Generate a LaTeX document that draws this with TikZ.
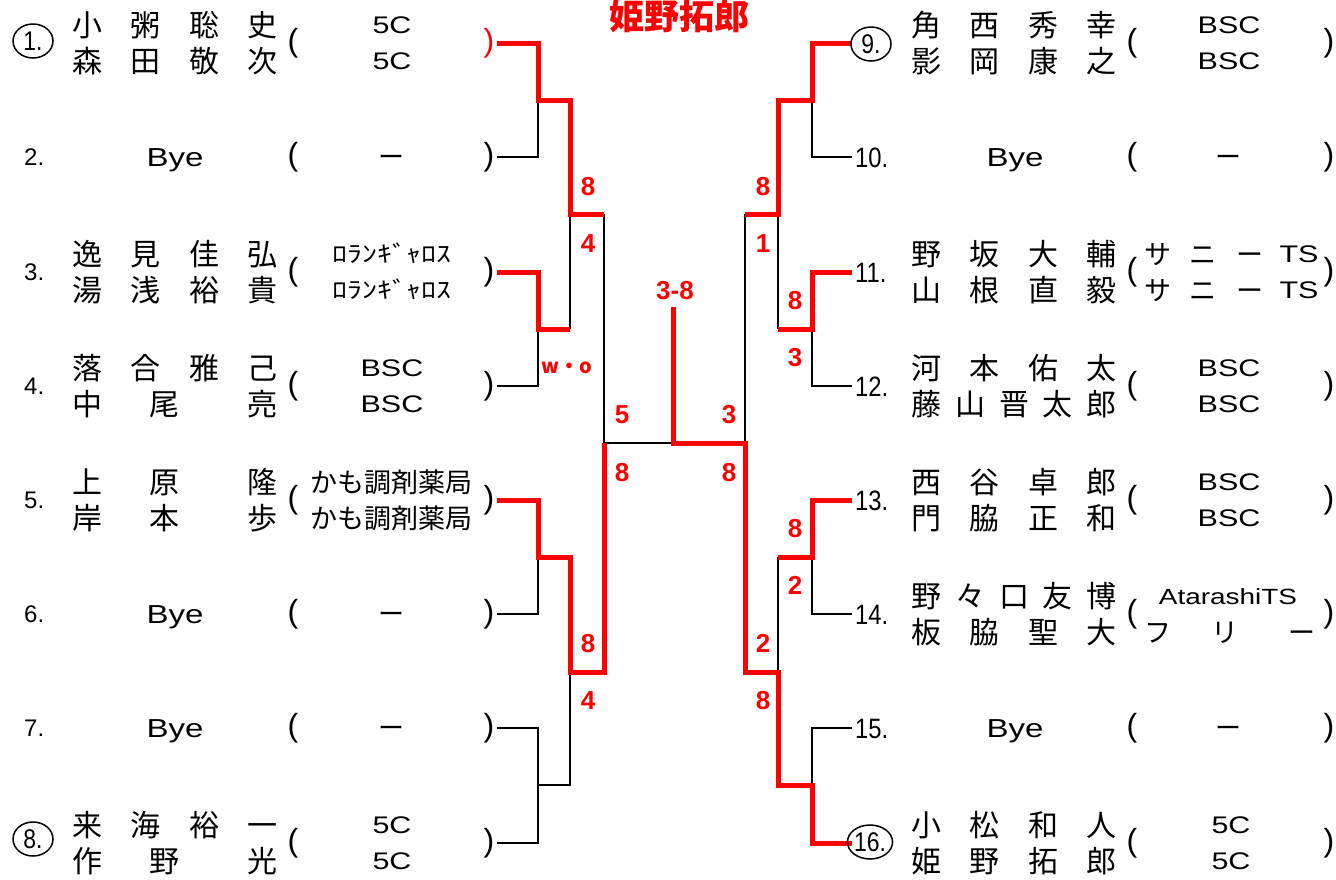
\documentclass[tikz,border=0pt]{standalone}
\usepackage{fontspec}
\setmainfont{Liberation Sans}
\newfontfamily\jp{Noto Sans CJK JP}
\newfontfamily\jpw[FakeStretch=1.3]{Noto Sans CJK JP}
\newfontfamily\wide[FakeStretch=1.27]{Liberation Sans}
\newfontfamily\narrow[FakeStretch=0.85]{Liberation Sans}
\usetikzlibrary{shapes.geometric}
\definecolor{rd}{RGB}{255,0,0}
\tikzset{
 blk/.style={line width=2.6pt, black, line join=miter},
 win/.style={line width=5pt, rd, line join=miter},
 nm/.style={font=\jp\fontsize{30}{30}\selectfont, inner sep=0pt, text height=24.9pt, text depth=2.1pt},
 aff/.style={font=\wide\fontsize{24}{24}\selectfont, inner sep=0pt, text height=17.2pt, text depth=0pt},
 affj/.style={font=\jp\fontsize{27}{27}\selectfont, inner sep=0pt, text height=22.4pt, text depth=1.9pt},
 affk/.style={font=\jpw\fontsize{23}{23}\selectfont, inner sep=0pt, text height=19pt, text depth=1.6pt},
 bye/.style={font=\wide\fontsize{26}{26}\selectfont, inner sep=0pt, text height=18.6pt, text depth=0pt},
 dsh/.style={font=\jp\fontsize{26}{26}\selectfont, inner sep=0pt, text height=21.6pt, text depth=1.8pt},
 numl/.style={font=\fontsize{24}{24}\selectfont, inner sep=0pt, text height=17.2pt, text depth=0pt, anchor=west},
 numr/.style={font=\narrow\fontsize{28}{28}\selectfont, inner sep=0pt, text height=20pt, text depth=0pt, anchor=west},
 par/.style={font=\fontsize{32}{32}\selectfont, inner sep=0pt, text height=23.4pt, text depth=6.7pt},
 circ/.style={draw, ellipse, line width=1.5pt, minimum width=40pt, minimum height=34pt, inner sep=0pt, font=\narrow\fontsize{27}{27}\selectfont, text height=19.3pt, text depth=0pt},
 sc/.style={font=\bfseries\fontsize{26}{26}\selectfont, text=rd, inner sep=0pt, text height=18.6pt, text depth=0pt},
}
\newcommand\nmrow[4]{\foreach \xx/\cc [count=\k] in {#4} {\node[nm] (#1-\k) at ({#2+\xx},#3) {\cc};}}
\newcommand\nameFour[7]{\nmrow{#1}{#2}{#3}{87/#4,145/#5,204/#6,262/#7}}
\newcommand\nameThree[6]{\nmrow{#1}{#2}{#3}{87/#4,164/#5,262/#6}}
\newcommand\nameFive[8]{\nmrow{#1}{#2}{#3}{87/#4,131/#5,175/#6,218/#7,262/#8}}
\begin{document}
\begin{tikzpicture}[x=1pt,y=-1pt]
\useasboundingbox (0,0) rectangle (1336,879);
% title
\node[font=\jp\bfseries\fontsize{35}{35}\selectfont, text=rd, inner sep=0pt, text height=29pt, text depth=2.5pt] (title) at (679,16) {姫野拓郎};

% ---------- bracket coordinates ----------
\foreach \i/\y in {1/43,2/157,3/272,4/386,5/500,6/614,7/728,8/843}{\coordinate (a\i) at (497,\y);}
\foreach \i/\y in {9/43,10/157,11/272,12/386,13/500,14/614,15/728,16/843}{\coordinate (b\i) at (852,\y);}
\coordinate (p12) at (538,100); \coordinate (p34) at (538,329);
\coordinate (p56) at (538,557); \coordinate (p78) at (538,785);
\coordinate (r12) at (570,100); \coordinate (r34) at (570,329);
\coordinate (r56) at (570,557); \coordinate (r78) at (570,785);
\coordinate (s1) at (570,214); \coordinate (s2) at (570,672);
\coordinate (t1) at (604,214); \coordinate (t2) at (604,672);
\coordinate (f1) at (604,443);
\coordinate (fc) at (673,443); \coordinate (ch) at (673,307);
\coordinate (fr) at (745,443);
\coordinate (P910) at (812,100); \coordinate (P1112) at (812,329);
\coordinate (P1314) at (812,557); \coordinate (P1516) at (812,785);
\coordinate (R910) at (778,100); \coordinate (R1112) at (778,329);
\coordinate (R1314) at (778,557); \coordinate (R1516) at (778,785);
\coordinate (S3) at (778,214); \coordinate (S4) at (778,672);
\coordinate (T3) at (745,214); \coordinate (T4) at (745,672);

% ---------- black lines ----------
\draw[blk] (a2) -| (p12);
\draw[blk] (a4) -| (p34);
\draw[blk] (a6) -| (p56);
\draw[blk] (a7) -| (p78);
\draw[blk] (a8) -| (p78) -- (r78) -- (s2);
\draw[blk] (r34) -- (s1);
\draw[blk] (t1) -- (f1) -- (fc);
\draw[blk] (b10) -| (P910);
\draw[blk] (b12) -| (P1112);
\draw[blk] (b14) -| (P1314);
\draw[blk] (b15) -| (P1516);
\draw[blk] (R1112) -- (S3);
\draw[blk] (R1314) -- (S4);
\draw[blk] (T3) -- (fr);

% ---------- winner lines ----------
\draw[win] (a1) -| (p12) -- (r12) -- (s1) -- (t1);
\draw[win] (a3) -| (p34) -- (r34);
\draw[win] (a5) -| (p56) -- (r56) -- (s2) -- (t2) -- (f1);
\draw[win] (b9) -| (P910) -- (R910) -- (S3) -- (T3);
\draw[win] (b11) -| (P1112) -- (R1112);
\draw[win] (b13) -| (P1314) -- (R1314);
\draw[win] (b16) -| (P1516) -- (R1516) -- (S4) -- (T4) -- (fr) -- (fc) -- (ch);

% ---------- scores ----------
\node[sc] (sc1) at (588,186) {8};
\node[sc] (sc2) at (588,243) {4};
\node[font=\jp\bfseries\fontsize{20}{20}\selectfont, text=rd, inner sep=0pt] (wo) at (567,368) {w・o};
\node[sc] (sc3) at (622,414) {5};
\node[sc] (sc4) at (622,472) {8};
\node[sc] (sc5) at (588,643) {8};
\node[sc] (sc6) at (588,700) {4};
\node[sc] (fin) at (675,290) {3-8};
\node[sc] (sc7) at (729,414) {3};
\node[sc] (sc8) at (729,472) {8};
\node[sc] (sc9) at (763,186) {8};
\node[sc] (sc10) at (763,243) {1};
\node[sc] (sc11) at (795,300) {8};
\node[sc] (sc12) at (795,357) {3};
\node[sc] (sc13) at (795,528) {8};
\node[sc] (sc14) at (795,585) {2};
\node[sc] (sc15) at (763,643) {2};
\node[sc] (sc16) at (763,700) {8};

% ---------- left entries ----------
% 1
\node[circ] (n1) at (33,41) {1.};
\nameFour{e1a}{0}{25}{小}{粥}{聡}{史}
\nameFour{e1b}{0}{61}{森}{田}{敬}{次}
\node[aff] (f1a) at (392,25) {5C};
\node[aff] (f1b) at (392,61) {5C};
\node[par] (o1) at (293,43) {(};
\node[par, text=rd] (c1) at (489,43) {)};
% 2
\node[numl] (n2) at (24,157) {2.};
\node[bye] (y2) at (175,157) {Bye};
\node[par] (o2) at (293,157) {(};
\node[dsh] (d2) at (391,157) {ー};
\node[par] (c2) at (489,157) {)};
% 3
\node[numl] (n3) at (24,272) {3.};
\nameFour{e3a}{0}{254}{逸}{見}{佳}{弘}
\nameFour{e3b}{0}{290}{湯}{浅}{裕}{貴}
\node[affk] (f3a) at (392,254) {ﾛﾗﾝｷﾞｬﾛｽ};
\node[affk] (f3b) at (392,290) {ﾛﾗﾝｷﾞｬﾛｽ};
\node[par] (o3) at (293,272) {(};
\node[par] (c3) at (489,272) {)};
% 4
\node[numl] (n4) at (24,386) {4.};
\nameFour{e4a}{0}{368}{落}{合}{雅}{己}
\nameThree{e4b}{0}{404}{中}{尾}{亮}
\node[aff] (f4a) at (392,368) {BSC};
\node[aff] (f4b) at (392,404) {BSC};
\node[par] (o4) at (293,386) {(};
\node[par] (c4) at (489,386) {)};
% 5
\node[numl] (n5) at (24,500) {5.};
\nameThree{e5a}{0}{482}{上}{原}{隆}
\nameThree{e5b}{0}{518}{岸}{本}{歩}
\node[affj] (f5a) at (391,482) {かも調剤薬局};
\node[affj] (f5b) at (391,518) {かも調剤薬局};
\node[par] (o5) at (293,500) {(};
\node[par] (c5) at (489,500) {)};
% 6
\node[numl] (n6) at (24,614) {6.};
\node[bye] (y6) at (175,614) {Bye};
\node[par] (o6) at (293,614) {(};
\node[dsh] (d6) at (391,614) {ー};
\node[par] (c6) at (489,614) {)};
% 7
\node[numl] (n7) at (24,728) {7.};
\node[bye] (y7) at (175,728) {Bye};
\node[par] (o7) at (293,728) {(};
\node[dsh] (d7) at (391,728) {ー};
\node[par] (c7) at (489,728) {)};
% 8
\node[circ] (n8) at (33,839) {8.};
\nameFour{e8a}{0}{825}{来}{海}{裕}{一}
\nameThree{e8b}{0}{861}{作}{野}{光}
\node[aff] (f8a) at (392,825) {5C};
\node[aff] (f8b) at (392,861) {5C};
\node[par] (o8) at (293,843) {(};
\node[par] (c8) at (489,843) {)};

% ---------- right entries ----------
% 9
\node[circ] (n9) at (871,44) {9.};
\nameFour{e9a}{839}{25}{角}{西}{秀}{幸}
\nameFour{e9b}{839}{61}{影}{岡}{康}{之}
\node[aff] (f9a) at (1229,25) {BSC};
\node[aff] (f9b) at (1229,61) {BSC};
\node[par] (o9) at (1132,43) {(};
\node[par] (c9) at (1329,43) {)};
% 10
\node[numr] (n10) at (855,157) {10.};
\node[bye] (y10) at (1015,157) {Bye};
\node[par] (o10) at (1132,157) {(};
\node[dsh] (d10) at (1228,157) {ー};
\node[par] (c10) at (1329,157) {)};
% 11
\node[numr] (n11) at (855,272) {11.};
\nameFour{e11a}{839}{254}{野}{坂}{大}{輔}
\nameFour{e11b}{839}{290}{山}{根}{直}{毅}
\foreach \yy/\tag in {254/a,290/b}{
  \node[affj] (f11\tag1) at (1158,\yy) {サ};
  \node[affj] (f11\tag2) at (1203,\yy) {ニ};
  \node[affj] (f11\tag3) at (1250,\yy) {ー};
  \node[aff] (f11\tag4) at (1299,\yy) {TS};
}
\node[par] (o11) at (1132,272) {(};
\node[par] (c11) at (1329,272) {)};
% 12
\node[numr] (n12) at (855,386) {12.};
\nameFour{e12a}{839}{368}{河}{本}{佑}{太}
\nameFive{e12b}{839}{404}{藤}{山}{晋}{太}{郎}
\node[aff] (f12a) at (1229,368) {BSC};
\node[aff] (f12b) at (1229,404) {BSC};
\node[par] (o12) at (1132,386) {(};
\node[par] (c12) at (1329,386) {)};
% 13
\node[numr] (n13) at (855,500) {13.};
\nameFour{e13a}{839}{482}{西}{谷}{卓}{郎}
\nameFour{e13b}{839}{518}{門}{脇}{正}{和}
\node[aff] (f13a) at (1229,482) {BSC};
\node[aff] (f13b) at (1229,518) {BSC};
\node[par] (o13) at (1132,500) {(};
\node[par] (c13) at (1329,500) {)};
% 14
\node[numr] (n14) at (855,614) {14.};
\nameFive{e14a}{839}{596}{野}{々}{口}{友}{博}
\nameFour{e14b}{839}{632}{板}{脇}{聖}{大}
\node[aff, font=\wide\fontsize{22}{22}\selectfont] (f14a) at (1228,596) {AtarashiTS};
\node[affj] (f14b1) at (1158,632) {フ};
\node[affj] (f14b2) at (1225,632) {リ};
\node[affj] (f14b3) at (1302,632) {ー};
\node[par] (o14) at (1132,614) {(};
\node[par] (c14) at (1329,614) {)};
% 15
\node[numr] (n15) at (855,728) {15.};
\node[bye] (y15) at (1015,728) {Bye};
\node[par] (o15) at (1132,728) {(};
\node[dsh] (d15) at (1228,728) {ー};
\node[par] (c15) at (1329,728) {)};
% 16
\node[circ] (n16) at (870,842) {16.};
\nameFour{e16a}{839}{825}{小}{松}{和}{人}
\nameFour{e16b}{839}{861}{姫}{野}{拓}{郎}
\node[aff] (f16a) at (1231,825) {5C};
\node[aff] (f16b) at (1231,861) {5C};
\node[par] (o16) at (1132,843) {(};
\node[par] (c16) at (1329,843) {)};
\end{tikzpicture}
\end{document}
